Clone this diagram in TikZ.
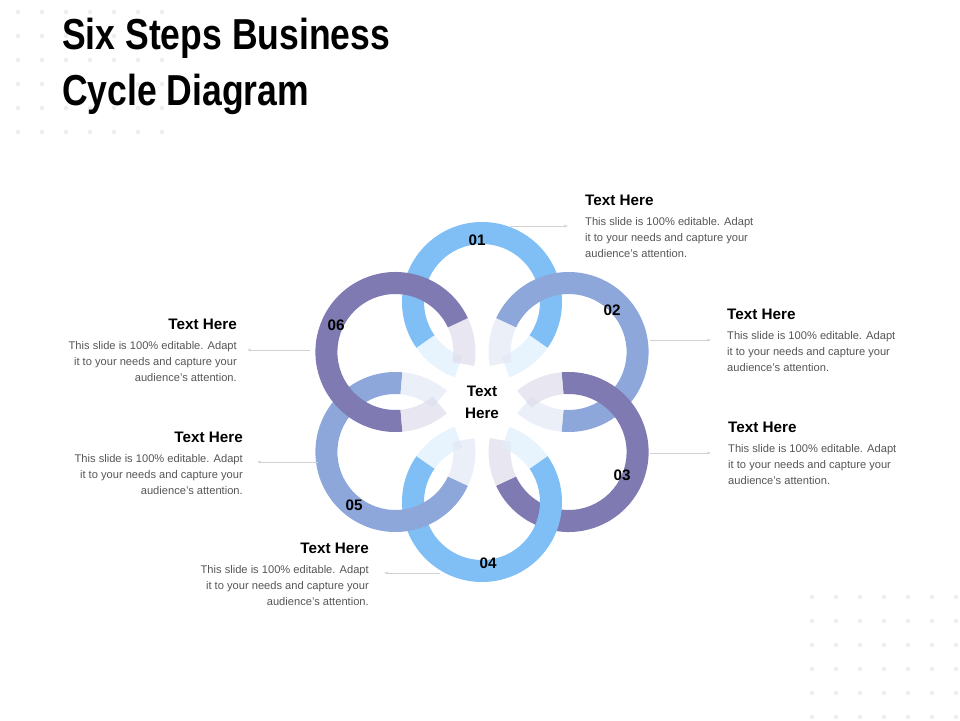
\documentclass[tikz,border=0pt]{standalone}
\usepackage{fontspec}
\setmainfont{Liberation Sans}
\newfontfamily\titlefont[FakeStretch=0.82]{Liberation Sans}
\usetikzlibrary{calc, positioning, arrows.meta}
\definecolor{ringA}{HTML}{80BFF5}
\definecolor{ringB}{HTML}{8EA7DB}
\definecolor{ringC}{HTML}{7F7AB1}
\definecolor{dotgray}{HTML}{EDEDF0}
\definecolor{bodygray}{HTML}{555555}
\tikzset{
  head/.style={font=\fontsize{13}{15}\selectfont\bfseries, text=black, inner sep=0pt},
  body/.style={font=\fontsize{9.5}{13.6}\selectfont, text=bodygray, inner sep=0pt},
  num/.style={font=\fontsize{13}{15}\selectfont\bfseries, text=black},
  lead/.style={draw=gray!35, line width=0.5pt, -{Latex[length=3pt,width=2.5pt]}},
}
\newcommand{\ringarc}[4]{% center, from, to, colour
  \fill[#4] ($(#1)+(#2:80)$) arc[start angle=#2, end angle=#3, radius=80]
     -- ($(#1)+(#3:58)$) arc[start angle=#3, end angle=#2, radius=58] -- cycle;}
\begin{document}
\begin{tikzpicture}[x=0.03cm, y=0.03cm]
  \useasboundingbox (0,0) rectangle (960,720);
  % dots
  \foreach \i in {0,...,6} \foreach \j in {0,...,5}
    \fill[dotgray] (18+24*\i, 708-24*\j) circle (2.2);
  \foreach \i in {0,...,6} \foreach \j in {0,...,5}
    \fill[dotgray] (812+24*\i, 123-24*\j) circle (2.2);
  % title
  \node[anchor=north west, align=left, inner sep=0pt,
        font=\titlefont\fontsize{37}{48}\selectfont\bfseries] (title) at (62,702)
       {Six Steps Business\\Cycle Diagram};
  % rings
  \coordinate (mid) at (482,318);
  \foreach \d/\c/\n in {90/ringA/r1, 30/ringB/r2, -30/ringC/r3, -90/ringA/r4, -150/ringB/r5, 150/ringC/r6}{
    \coordinate (\n) at ($(mid)+(\d:100)$);
    \pgfmathsetmacro{\a}{\d+180+55}
    \pgfmathsetmacro{\b}{\d+180-55+360}
    \pgfmathsetmacro{\e}{\d+180+20}
    \pgfmathsetmacro{\f}{\d+180-20}
    \pgfmathsetmacro{\g}{\d+180-55}
    \ringarc{\n}{\a}{\b}{\c}
    \ringarc{\n}{\e}{\a}{\c!25!white, opacity=0.75}
    \ringarc{\n}{\f}{\g}{\c!25!white, opacity=0.75}
  }
  \node[num] (n1) at (477,480) {01};
  \node[num] (n2) at (612,410) {02};
  \node[num] (n3) at (622,245) {03};
  \node[num] (n4) at (488,157) {04};
  \node[num] (n5) at (354,215) {05};
  \node[num] (n6) at (336,395) {06};
  \node[head, align=center, font=\fontsize{13}{19}\selectfont\bfseries] (center) at (mid) {Text\\Here};
  % texts right
  \node[head, anchor=west] (h1) at (585,520) {Text Here};
  \node[body, anchor=north west, align=left] (b1) at (585,503) {This slide is 100\% editable. Adapt\\it to your needs and capture your\\audience's attention.};
  \node[head, anchor=west] (h2) at (727,406) {Text Here};
  \node[body, anchor=north west, align=left] (b2) at (727,389) {This slide is 100\% editable. Adapt\\it to your needs and capture your\\audience's attention.};
  \node[head, anchor=west] (h3) at (728,293) {Text Here};
  \node[body, anchor=north west, align=left] (b3) at (728,276) {This slide is 100\% editable. Adapt\\it to your needs and capture your\\audience's attention.};
  % texts left
  \node[head, anchor=east] (h6) at (237,396) {Text Here};
  \node[body, anchor=north east, align=right] (b6) at (237,379) {This slide is 100\% editable. Adapt\\it to your needs and capture your\\audience's attention.};
  \node[head, anchor=east] (h5) at (243,283) {Text Here};
  \node[body, anchor=north east, align=right] (b5) at (243,266) {This slide is 100\% editable. Adapt\\it to your needs and capture your\\audience's attention.};
  \node[head, anchor=east] (h4) at (369,172) {Text Here};
  \node[body, anchor=north east, align=right] (b4) at (369,155) {This slide is 100\% editable. Adapt\\it to your needs and capture your\\audience's attention.};
  % leads
  \coordinate (s1) at (510,494); \coordinate (e1) at (568,494);
  \coordinate (s2) at (650,380); \coordinate (e2) at (711,380);
  \coordinate (s3) at (650,267); \coordinate (e3) at (711,267);
  \coordinate (s6) at (310,370); \coordinate (e6) at (247,370);
  \coordinate (s5) at (318,258); \coordinate (e5) at (257,258);
  \coordinate (s4) at (440,147); \coordinate (e4) at (384,147);
  \foreach \k in {1,...,6} \draw[lead] (s\k) -- (e\k);
\end{tikzpicture}
\end{document}
